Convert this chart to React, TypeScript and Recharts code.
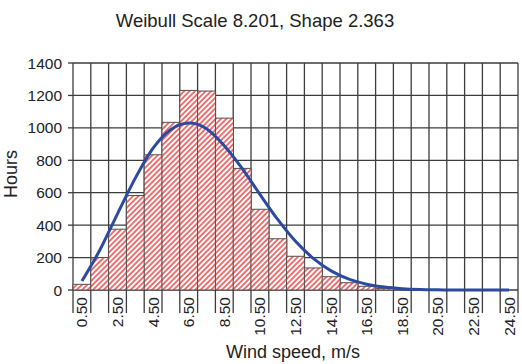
import { ComposedChart, Bar, Line, XAxis, YAxis, CartesianGrid } from "recharts";

// wind speed bins (m/s, bin centres)
const speeds = [
  "0.50", "1.50", "2.50", "3.50", "4.50", "5.50", "6.50", "7.50", "8.50", "9.50",
  "10.50", "11.50", "12.50", "13.50", "14.50", "15.50", "16.50", "17.50", "18.50", "19.50",
  "20.50", "21.50", "22.50", "23.50", "24.50",
];

// measured hours per bin
const hours = [35, 200, 375, 583, 834, 1034, 1231, 1227, 1060, 750, 498, 316, 208, 136, 82, 45, 23, 10, 6, 3, 2, 1, 0, 0, 0];

// fitted Weibull curve, hours per bin
const weibullFit = [55, 245, 470, 690, 875, 990, 1030, 995, 890, 750, 590, 435, 300, 195, 118, 67, 36, 18, 8, 3, 1, 0, 0, 0, 0];

const yTicks = [0, 200, 400, 600, 800, 1000, 1200, 1400];

const data = speeds.map((speed, i) => ({ speed, hours: hours[i], fit: weibullFit[i] }));

const W = 522;
const H = 364;
const MARGIN = { top: 63, right: 4, bottom: 29, left: 0 };
const Y_AXIS_W = 73;
const X_AXIS_H = 45;
const PLOT_W = W - MARGIN.left - MARGIN.right - Y_AXIS_W;
const BAND = PLOT_W / speeds.length;

const FONT = "'Liberation Sans', Arial, sans-serif";
const GRID = "#3c3c3c";
const TEXT = "#222";

function SpeedTick(props: any) {
  const { x, y, index } = props;
  const half = BAND / 2;
  const last = index === speeds.length - 1;
  return (
    <g>
      <line x1={x - half} x2={x - half} y1={y} y2={y + 23} stroke={GRID} strokeWidth={1.3} />
      {last && <line x1={x + half} x2={x + half} y1={y} y2={y + 23} stroke={GRID} strokeWidth={1.3} />}
      {index % 2 === 0 && (
        <text
          x={x}
          y={y + 7}
          transform={`rotate(-90, ${x}, ${y + 7})`}
          textAnchor="end"
          dy="0.35em"
          fontSize={15.5}
          fontFamily={FONT}
          fill={TEXT}
        >
          {props.payload.value}
        </text>
      )}
    </g>
  );
}

export default function App() {
  return (
    <div style={{ position: "absolute", left: 0, top: 0, width: W, height: H, background: "#fff" }}>
      <ComposedChart width={W} height={H} data={data} margin={MARGIN} barCategoryGap={0} barGap={0}>
        <defs>
          <pattern id="hatch" patternUnits="userSpaceOnUse" width={3.8} height={3.8} patternTransform="rotate(45)">
            <rect width={3.8} height={3.8} fill="#fff" />
            <line x1={0.9} y1={0} x2={0.9} y2={3.8} stroke="#ee5c5c" strokeWidth={1.7} />
          </pattern>
        </defs>
        <CartesianGrid
          stroke={GRID}
          strokeWidth={1.3}
          verticalCoordinatesGenerator={({ offset }: any) =>
            speeds.map((_, i) => offset.left + i * (offset.width / speeds.length)).concat(offset.left + offset.width)
          }
        />
        <XAxis
          dataKey="speed"
          interval={0}
          height={X_AXIS_H}
          tickSize={0}
          tickMargin={0}
          tickLine={false}
          axisLine={false}
          tick={<SpeedTick />}
        />
        <YAxis
          domain={[0, 1400]}
          ticks={yTicks}
          width={Y_AXIS_W}
          tickSize={5}
          tickMargin={6}
          axisLine={false}
          tickLine={{ stroke: GRID, strokeWidth: 1.3 }}
          tick={{ fontSize: 15.5, fontFamily: FONT, fill: TEXT }}
        />
        <Bar dataKey="hours" fill="url(#hatch)" stroke="#505050" strokeWidth={1} isAnimationActive={false} />
        <Line
          dataKey="fit"
          type="monotone"
          stroke="#2b4aa0"
          strokeWidth={3}
          dot={false}
          isAnimationActive={false}
        />
      </ComposedChart>
      <svg
        width={W}
        height={H}
        style={{ position: "absolute", left: 0, top: 0, pointerEvents: "none" }}
        fontFamily={FONT}
        fill={TEXT}
      >
        <text x={255} y={27} textAnchor="middle" fontSize={18.5}>
          Weibull Scale 8.201, Shape 2.363
        </text>
        <text x={293} y={358} textAnchor="middle" fontSize={18}>
          Wind speed, m/s
        </text>
        <text x={17} y={174} textAnchor="middle" fontSize={18} transform="rotate(-90, 17, 174)">
          Hours
        </text>
      </svg>
    </div>
  );
}
